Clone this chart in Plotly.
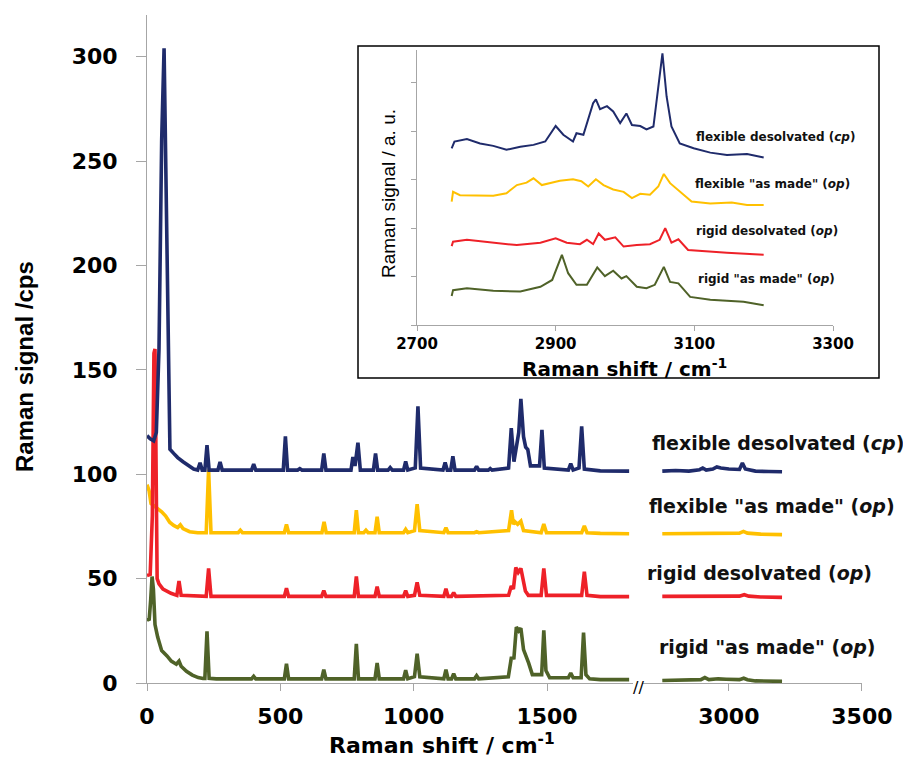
import plotly.graph_objects as go

# ---------------- main chart data (Raman shift / cm-1, signal / cps) ----------------
green_x = [0, 8, 14, 19, 24, 30, 40, 55, 75, 91, 110, 120, 128, 148, 170, 192, 210, 217, 225, 233,
           260, 392, 400, 408, 515, 523, 531, 655, 663, 671, 777, 785, 793, 855, 863, 871, 962, 970,
           978, 1003, 1013, 1023, 1113, 1121, 1129, 1142, 1150, 1158, 1228, 1236, 1244, 1355, 1366,
           1376, 1385, 1394, 1402, 1412, 1431, 1445, 1480, 1488, 1496, 1510, 1580, 1589, 1598, 1628,
           1637, 1646, 1660, 1700, 1808]
green_y = [31, 30, 40, 51, 45, 28, 22, 15.5, 13, 10.5, 9, 10.5, 8, 5.6, 3.8, 2.6, 2.2, 2.2, 24.7, 2.2,
           2, 2, 3.2, 2, 2, 9.2, 2, 2, 6.4, 2, 2, 18.8, 2, 2, 9.6, 2, 2, 6.1,
           2, 3, 14, 3, 2, 6.4, 2, 2, 4.5, 2, 2, 3.5, 2, 3, 11.9,
           12, 26.8, 25, 26.3, 16, 9.6, 4, 4, 25.2, 6, 2.5, 2.5, 4.8, 2.5, 2.5,
           24.2, 4, 2, 1.6, 1.6]

yellow_x = [0, 8, 15, 25, 40, 55, 70, 85, 100, 115, 125, 135, 160, 190, 222, 231, 240, 342, 350, 358,
            515, 523, 531, 656, 664, 672, 777, 785, 793, 813, 821, 829, 855, 863, 871, 962, 970, 978,
            1003, 1013, 1023, 1113, 1121, 1129, 1228, 1236, 1244, 1356, 1367, 1374, 1380, 1390,
            1402, 1412, 1478, 1488, 1498, 1630, 1640, 1650, 1700, 1808]
yellow_y = [95, 92, 86, 85, 84, 82, 80, 77, 75.5, 74.5, 75.8, 74, 72.5, 72, 72, 102.2, 72, 72, 73.2, 72,
            72, 76, 72, 72, 77.2, 72, 72, 82.8, 72, 72, 73.2, 72, 72, 79.6, 72, 72, 73.6, 72,
            73, 85.7, 73, 72, 74.4, 72, 72, 72.5, 72, 73, 82.8, 76, 77.2, 76,
            77.5, 73, 72, 76.1, 72, 72, 75.2, 72, 71.7, 71.5]

red_x = [0, 12, 20, 26, 30, 34, 38, 45, 60, 90, 112, 120, 128, 222, 231, 240, 515, 523, 531, 655,
         663, 671, 777, 785, 793, 855, 863, 871, 962, 970, 978, 1003, 1013, 1023, 1113, 1121, 1129,
         1142, 1150, 1158, 1356, 1366, 1374, 1383, 1392, 1402, 1412, 1419, 1430, 1478, 1488, 1498,
         1630, 1640, 1650, 1700, 1808]
red_y = [51.5, 52, 80, 158, 160, 80, 50, 47.5, 45, 43, 42, 48.9, 42, 41.5, 54.9, 41.5, 41.5, 45.4, 41.5, 41.5,
         44.3, 41.5, 41.5, 51, 41.5, 41.5, 46.2, 41.5, 41.5, 44.3, 41.5, 42, 48.2, 42, 41.5, 45.1, 41.5,
         41.5, 43.3, 41.5, 42, 46.5, 45, 55.3, 53, 54.9, 47.8, 44, 42, 42, 54.9, 42,
         42, 53.3, 42, 41.4, 41.4]

blue_x = [0, 12, 25, 35, 45, 55, 64, 72, 80, 86, 100, 115, 135, 155, 175, 190, 199, 207, 217, 225,
          233, 266, 274, 282, 392, 400, 408, 511, 519, 527, 565, 573, 581, 655, 663, 671, 765, 772,
          780, 791, 800, 849, 857, 865, 904, 912, 920, 962, 970, 978, 1006, 1016, 1026, 1110, 1118,
          1126, 1139, 1147, 1155, 1228, 1236, 1244, 1280, 1287, 1294, 1356, 1366, 1376, 1385, 1394,
          1402, 1412, 1420, 1428, 1438, 1472, 1481, 1490, 1580, 1589, 1598, 1620, 1630, 1640, 1700, 1808]
blue_y = [118.5, 117, 116, 120, 160, 260, 304, 230, 150, 112, 110, 108, 106, 104, 102.5, 102, 105.5, 102, 102, 113.9,
          102, 102, 105.9, 102, 102, 104.8, 102, 102, 118.2, 102, 102, 102.7, 102, 102, 109.9, 102, 102, 108.3,
          104, 115.1, 102, 102, 109.9, 102, 102, 103.2, 102, 102, 106.2, 102, 103, 132.5, 103, 102, 105.6,
          102, 102, 108.6, 102, 102, 103.8, 102, 102, 102.7, 102, 103, 122.1, 106, 112, 120,
          136.1, 118, 113, 111.8, 104, 104, 121.3, 103, 102, 105.1, 102, 103, 122.9, 102.5, 101.6, 101.5]

# high-wavenumber segment shown after the axis break
hi_blue_x = [2750, 2800, 2850, 2890, 2902, 2915, 2940, 2955, 2970, 3000, 3040, 3051, 3062, 3100, 3150, 3200]
hi_blue_y = [101.5, 101.8, 101.5, 102.2, 103, 102, 102.5, 103.5, 103, 102.5, 102.3, 105.4, 102.5, 101.5, 101.3, 101.2]
hi_yellow_x = [2750, 2850, 2900, 2960, 3000, 3040, 3055, 3070, 3120, 3200]
hi_yellow_y = [71.5, 71.6, 71.9, 72.1, 71.8, 71.8, 72.6, 71.8, 71.3, 71.1]
hi_red_x = [2750, 2850, 2960, 3040, 3058, 3075, 3120, 3200]
hi_red_y = [41.5, 41.5, 41.8, 41.6, 42.3, 41.6, 41.2, 41.0]
hi_green_x = [2750, 2860, 2895, 2910, 2925, 2960, 2974, 2990, 3040, 3056, 3070, 3100, 3200]
hi_green_y = [1.2, 1.3, 1.6, 2.6, 1.6, 2.0, 2.1, 1.8, 1.6, 2.3, 1.6, 1.0, 0.8]

# ---------------- inset data (2750-3200 cm-1, a.u.) ----------------
in_blue_x = [2750, 2754, 2772, 2791, 2810, 2829, 2849, 2868, 2885, 2900, 2911, 2925, 2930, 2940,
             2954, 2958, 2964, 2974, 2983, 2993, 3002, 3010, 3022, 3031, 3041, 3048, 3054, 3060,
             3067, 3079, 3099, 3123, 3147, 3176, 3200]
in_blue_y = [3.65, 3.79, 3.84, 3.75, 3.70, 3.62, 3.68, 3.72, 3.79, 4.11, 3.93, 3.79, 3.96, 3.93,
             4.58, 4.66, 4.46, 4.52, 4.41, 4.17, 4.37, 4.13, 4.11, 4.04, 4.10, 4.92, 5.61, 4.72,
             4.10, 3.75, 3.65, 3.56, 3.51, 3.53, 3.46]
in_yellow_x = [2750, 2752, 2762, 2786, 2810, 2829, 2844, 2858, 2868, 2880, 2895, 2906, 2925, 2937,
               2947, 2958, 2969, 2983, 2998, 3010, 3022, 3036, 3048, 3056, 3065, 3079, 3096, 3123,
               3154, 3176, 3200]
in_yellow_y = [2.55, 2.75, 2.68, 2.68, 2.67, 2.72, 2.89, 2.94, 3.03, 2.89, 2.94, 2.98, 3.01, 2.97,
               2.86, 3.01, 2.89, 2.80, 2.75, 2.62, 2.71, 2.69, 2.86, 3.12, 2.93, 2.75, 2.55, 2.51,
               2.53, 2.48, 2.48]
in_red_x = [2750, 2752, 2772, 2810, 2844, 2878, 2900, 2916, 2935, 2945, 2954, 2962, 2971, 2986,
            2998, 3017, 3036, 3050, 3058, 3067, 3077, 3091, 3123, 3147, 3200]
in_red_y = [1.63, 1.72, 1.76, 1.70, 1.65, 1.70, 1.79, 1.70, 1.67, 1.76, 1.67, 1.89, 1.76, 1.81,
            1.62, 1.65, 1.67, 1.76, 2.00, 1.70, 1.77, 1.55, 1.51, 1.49, 1.45]
in_green_x = [2750, 2752, 2772, 2810, 2849, 2878, 2895, 2909, 2918, 2930, 2945, 2960, 2971, 2983,
              2995, 3002, 3017, 3031, 3043, 3056, 3065, 3077, 3094, 3123, 3171, 3200]
in_green_y = [0.60, 0.72, 0.76, 0.71, 0.69, 0.79, 0.93, 1.45, 1.07, 0.83, 0.83, 1.19, 1.01, 1.12,
              0.96, 1.01, 0.79, 0.76, 0.83, 1.20, 0.89, 0.86, 0.58, 0.52, 0.48, 0.41]

sample_labels = ['flexible desolvated (<i>cp</i>)', 'flexible "as made" (<i>op</i>)',
                 'rigid desolvated (<i>op</i>)', 'rigid "as made" (<i>op</i>)']
main_xticks = [0, 500, 1000, 1500]
hi_xticks = [3000, 3500]
main_yticks = [0, 50, 100, 150, 200, 250, 300]
inset_xticks = [2700, 2900, 3100, 3300]
inset_yticks = [0, 1, 2, 3, 4, 5]

BLUE = '#1f2b6b'
YELLOW = '#ffc000'
RED = '#ee2128'
GREEN = '#4f6228'
AXC = '#a6a6a6'
FONT = 'DejaVu Sans'

fig = go.Figure()

main_series = [
    (green_x, green_y, hi_green_x, hi_green_y, GREEN),
    (yellow_x, yellow_y, hi_yellow_x, hi_yellow_y, YELLOW),
    (red_x, red_y, hi_red_x, hi_red_y, RED),
    (blue_x, blue_y, hi_blue_x, hi_blue_y, BLUE),
]
for lx, ly, hx, hy, col in main_series:
    fig.add_trace(go.Scatter(x=lx, y=ly, mode='lines', line=dict(color=col, width=3.6),
                             xaxis='x', yaxis='y', showlegend=False, hoverinfo='skip'))
    fig.add_trace(go.Scatter(x=hx, y=hy, mode='lines', line=dict(color=col, width=3.6),
                             xaxis='x2', yaxis='y', showlegend=False, hoverinfo='skip'))

inset_series = [
    (in_green_x, in_green_y, GREEN),
    (in_red_x, in_red_y, RED),
    (in_yellow_x, in_yellow_y, YELLOW),
    (in_blue_x, in_blue_y, BLUE),
]
for ix, iy, col in inset_series:
    fig.add_trace(go.Scatter(x=ix, y=iy, mode='lines', line=dict(color=col, width=2),
                             xaxis='x3', yaxis='y3', showlegend=False, hoverinfo='skip'))

# page body adds an 8px offset, so the figure is drawn 8px smaller and coordinates below are
# given in screenshot pixels then shifted.
OFF = 8
W, H = 911 - OFF, 758 - OFF
L, R, T, B = 147, 862, 15, 683  # plot-area box in screenshot pixels


def px(xp):
    return (xp - L) / (R - L)


def py(yp):
    return (B - yp) / (B - T)


tickfont_main = dict(family=FONT, size=22, color='black', weight='bold')
common_ax = dict(showline=True, linecolor=AXC, linewidth=1, ticks='outside', tickcolor=AXC,
                 showgrid=False, zeroline=False)

fig.update_layout(
    width=W, height=H,
    margin=dict(l=L - OFF, r=W - (R - OFF), t=T - OFF, b=H - (B - OFF), autoexpand=False),
    plot_bgcolor='white', paper_bgcolor='white',
    xaxis=dict(domain=[0, px(633)], range=[0, (633 - L) / 0.26667], tickvals=main_xticks,
               ticklen=7, tickfont=tickfont_main, anchor='y', ticklabelstandoff=7, **common_ax),
    xaxis2=dict(domain=[px(642), 1], range=[3000 - (729 - 642) / 0.26667, 3500.5], tickvals=hi_xticks,
                ticklen=7, tickfont=tickfont_main, anchor='y', ticklabelstandoff=7, **common_ax),
    yaxis=dict(domain=[0, 1], range=[0, 320], tickvals=main_yticks, ticklen=10,
               tickfont=tickfont_main, anchor='x', ticklabelstandoff=14, **common_ax),
    xaxis3=dict(domain=[px(417), px(833)], range=[2700, 3300], tickvals=inset_xticks, ticklen=5,
                tickfont=dict(family=FONT, size=15, color='black', weight='bold'), anchor='y3',
                **common_ax),
    yaxis3=dict(domain=[py(325), py(50)], range=[0, 5.68], tickvals=inset_yticks, ticklen=5,
                showticklabels=False, anchor='x3', **common_ax),
)

# inset frame
fig.add_shape(type='rect', xref='paper', yref='paper', x0=px(358), x1=px(879), y0=py(378), y1=py(46),
              line=dict(color='black', width=1.5))

annos = []


def note(x, y, text, font, **kw):
    d = dict(x=px(x), y=py(y), xref='paper', yref='paper', text=text, showarrow=False,
             yanchor='middle', font=font)
    d.update(kw)
    annos.append(d)


# main axis titles
note(442, 744, 'Raman shift / cm<sup>-1</sup>', dict(family=FONT, size=22, color='black', weight='bold'),
     xanchor='center')
note(25, 366, 'Raman signal /cps', dict(family='Liberation Sans', size=24, color='black', weight='bold'),
     xanchor='center', textangle=-90)
# axis break mark
note(638, 687, '//', dict(family=FONT, size=16, color='black'), xanchor='center')
# main sample labels
main_lab_pos = [(650, 443), (647, 506), (645, 573), (657, 647)]
for (lx, ly), t in zip(main_lab_pos, sample_labels):
    note(lx, ly, t, dict(family=FONT, size=19, color='#111111', weight='bold'), xanchor='left')
# inset labels
inset_lab_pos = [(694, 137), (693, 184), (694, 231), (696, 279)]
for (lx, ly), t in zip(inset_lab_pos, sample_labels):
    note(lx, ly, t, dict(family=FONT, size=12, color='#111111', weight='bold'), xanchor='left')
# inset axis titles
note(624, 368, 'Raman shift / cm<sup>-1</sup>', dict(family=FONT, size=20, color='black', weight='bold'),
     xanchor='center')
note(388, 194, 'Raman signal / a. u.', dict(family='Liberation Sans', size=19, color='black'),
     xanchor='center', textangle=-90)
fig.update_layout(annotations=annos)

fig.write_html('out.html')
